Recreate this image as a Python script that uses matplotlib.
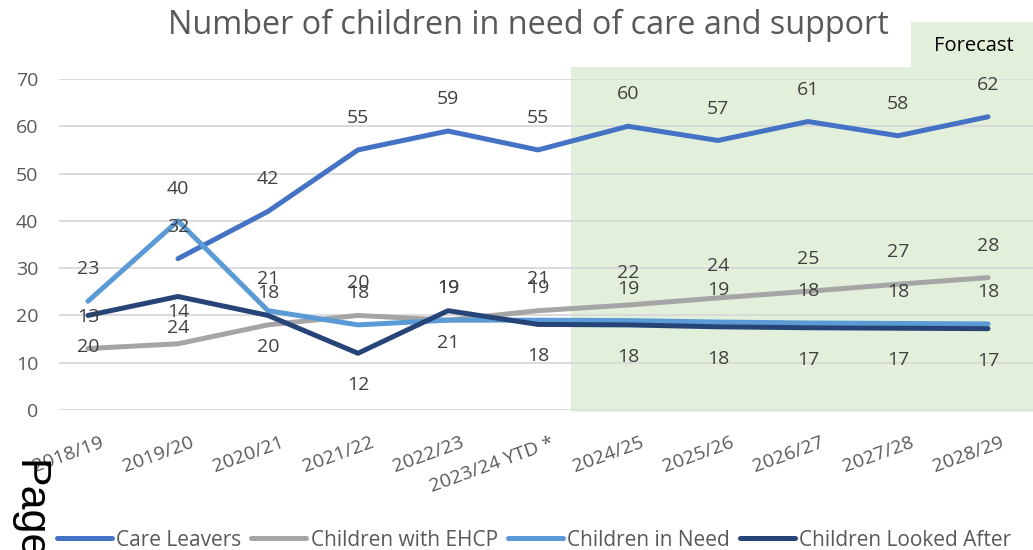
import matplotlib
matplotlib.use('Agg')
import matplotlib.pyplot as plt
import matplotlib.transforms as mtransforms
from matplotlib.patches import Rectangle
import numpy as np

plt.rcParams['font.family'] = ['Open Sans', 'DejaVu Sans']

years = ['2018/19', '2019/20', '2020/21', '2021/22', '2022/23', '2023/24 YTD *',
         '2024/25', '2025/26', '2026/27', '2027/28', '2028/29']

care_leavers = [np.nan, 32, 42, 55, 59, 55, 60, 57, 61, 58, 62]
ehcp = [13, 14, 18, 20, 19, 21, 22.2, 23.7, 25.1, 26.6, 28]
in_need = [23, 40, 21, 18, 19, 19, 18.9, 18.6, 18.4, 18.3, 18.2]
looked_after = [20, 24, 20, 12, 21, 18.1, 18.0, 17.6, 17.4, 17.3, 17.2]

series = [
    ('Care Leavers', care_leavers, '#4472C4', 1),
    ('Children with EHCP', ehcp, '#A5A5A5', 1),
    ('Children in Need', in_need, '#5B9BD5', 1),
    ('Children Looked After', looked_after, '#264478', -1),
]

forecast_start = 5.37
TXT = '#595959'

fig = plt.figure(figsize=(10.33, 5.5), dpi=100)
ax = fig.add_axes([59 / 1033, 1 - 410 / 550, 1 - 59 / 1033, (410 - 79) / 550])

# forecast shading + tab
ax.add_patch(Rectangle((forecast_start, -0.4), 6, 72.9, facecolor='#E2EFDA',
                       edgecolor='none', clip_on=False, zorder=0))
ax.add_patch(Rectangle((9.14, 72.5), 2, 9.6, facecolor='#E2EFDA',
                       edgecolor='none', clip_on=False, zorder=0))
ax.text(9.84, 77.0, 'Forecast', ha='center', va='center', fontsize=14.5,
        color='black')

x = np.arange(len(years))
for name, vals, color, side in series:
    ax.plot(x, vals, color=color, linewidth=3.6, label=name, zorder=3,
            solid_capstyle='round')
    for xi, v in zip(x, vals):
        if np.isnan(v):
            continue
        ax.annotate(f'{v:.0f}', (xi, v), xytext=(0, 23 * side),
                    textcoords='offset points', ha='center', va='center',
                    fontsize=14, color='#404040', zorder=4)

ax.set_xlim(-0.322, 10.5)
ax.set_ylim(0, 70)
ax.set_yticks(range(0, 71, 10))
ax.grid(axis='y', color='#D9D9D9', linewidth=1.3, zorder=1)
ax.set_axisbelow(True)
for s in ax.spines.values():
    s.set_visible(False)
ax.tick_params(axis='both', length=0, colors=TXT, labelsize=14)
ax.tick_params(axis='y', pad=15)
ax.tick_params(axis='x', pad=17)

ax.set_xticks(x)
ax.set_xticklabels(years, rotation=20, ha='right', va='top',
                   rotation_mode='anchor')
shift = mtransforms.ScaledTranslation(12 / 100, 0, fig.dpi_scale_trans)
for lbl in ax.get_xticklabels():
    lbl.set_transform(lbl.get_transform() + shift)

fig.text(528 / 1033, 1 - 25 / 550, 'Number of children in need of care and support',
         ha='center', va='center', fontsize=23.3, color=TXT)

fig.legend(loc='center left', bbox_to_anchor=(57 / 1033, 1 - 540 / 550), ncol=4,
           frameon=False, fontsize=15, handlelength=2.64, handletextpad=0.2,
           columnspacing=0.48, borderpad=0, borderaxespad=0, labelcolor=TXT)

fig.text(28 / 1033, 1 - 460 / 550, 'Page', rotation=270, ha='center', va='top',
         fontsize=31, color='black', family='Liberation Sans')

plt.savefig('out.png', dpi=100)
plt.close()
